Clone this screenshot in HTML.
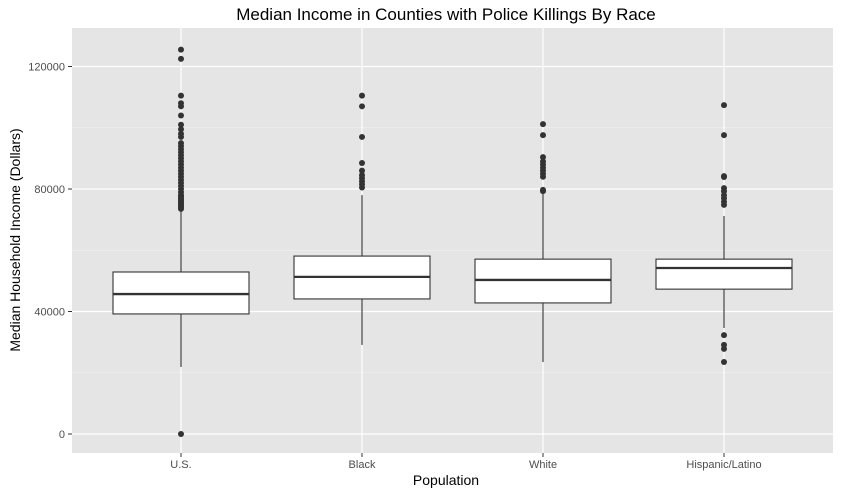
<!DOCTYPE html>
<html><head><meta charset="utf-8"><style>
body{margin:0;background:#fff}
svg{display:block;font-family:"Liberation Sans",Arial,sans-serif}
</style></head><body>
<svg id="c" width="841" height="495">
<rect width="841" height="495" fill="#fff"/>
<text x="446" y="20" text-anchor="middle" font-size="17" fill="#000">Median Income in Counties with Police Killings By Race</text>
<rect x="72" y="28" width="761" height="425" fill="#e5e5e5"/>
<g id="grid"></g><g id="marks"></g><g id="axes"></g>
<text x="446" y="485" text-anchor="middle" font-size="14" fill="#000">Population</text>
<text transform="translate(20,240) rotate(-90)" text-anchor="middle" font-size="14" fill="#000">Median Household Income (Dollars)</text>
</svg>
<script>
const categories=["U.S.","Black","White","Hispanic/Latino"];
const q1=[39200,44100,42800,47300];
const medians=[45700,51300,50300,54200];
const q3=[52900,58100,57100,57100];
const whiskLow=[21900,29100,23500,34600];
const whiskHigh=[72800,78000,78700,71200];
const outliers=[
 [0,73500,74000,74500,75000,75500,76000,76500,77000,77500,78000,79000,80000,81000,82000,83000,84000,85000,86000,87000,88000,89000,90000,91000,92000,93000,94000,95000,97000,98000,99500,101000,104000,107000,108000,110500,122500,125500],
 [80500,81500,82500,83500,84500,86000,88500,97000,107000,110500],
 [79300,79700,84000,85000,86000,87000,88000,89000,90400,97600,101200],
 [23500,27800,29100,32300,74800,75800,77000,78000,79300,80300,83900,84200,97600,107400]
];
const yTicks=[0,40000,80000,120000];
const yMinor=[20000,60000,100000];
const NS="http://www.w3.org/2000/svg";
const y=v=>434-v*122.5/40000;
const x=i=>181+i*181;
function mk(t,a,p){const e=document.createElementNS(NS,t);for(const k in a)e.setAttribute(k,a[k]);p.appendChild(e);return e;}
const grid=document.getElementById('grid'),marks=document.getElementById('marks'),axes=document.getElementById('axes');
yMinor.forEach(v=>{const l=mk('line',{x1:72,x2:833,y1:y(v),y2:y(v),stroke:'#f2f2f2','stroke-width':0.6},grid);

});
yTicks.forEach(v=>{const l=mk('line',{x1:72,x2:833,y1:y(v),y2:y(v),stroke:'#fff','stroke-width':1.2},grid);


mk('line',{x1:68,x2:72,y1:y(v),y2:y(v),stroke:'#333'},axes);
const t=mk('text',{x:65,y:y(v)+4,'text-anchor':'end','font-size':11,fill:'#4d4d4d'},axes);t.textContent=v;

});
categories.forEach((c,i)=>{const cx=x(i);
const gl=mk('line',{x1:cx,x2:cx,y1:28,y2:453,stroke:'#fff','stroke-width':1.2},grid);


mk('line',{x1:cx,x2:cx,y1:453,y2:457,stroke:'#333'},axes);
const t=mk('text',{x:cx,y:468,'text-anchor':'middle','font-size':11,fill:'#4d4d4d'},axes);t.textContent=c;


const g=mk('g',{},marks);


mk('line',{x1:cx,x2:cx,y1:y(q3[i]),y2:y(whiskHigh[i]),stroke:'#333','stroke-width':1.1},g);
mk('line',{x1:cx,x2:cx,y1:y(q1[i]),y2:y(whiskLow[i]),stroke:'#333','stroke-width':1.1},g);
mk('rect',{x:cx-68,y:y(q3[i]),width:136,height:y(q1[i])-y(q3[i]),fill:'#fff',stroke:'#333','stroke-width':1.1},g);
mk('line',{x1:cx-68,x2:cx+68,y1:y(medians[i]),y2:y(medians[i]),stroke:'#333','stroke-width':2.3},g);
outliers[i].forEach(v=>{const p=mk('circle',{cx:cx,cy:y(v),r:3,fill:'#333'},g);

});
});
</script>
</body></html>
